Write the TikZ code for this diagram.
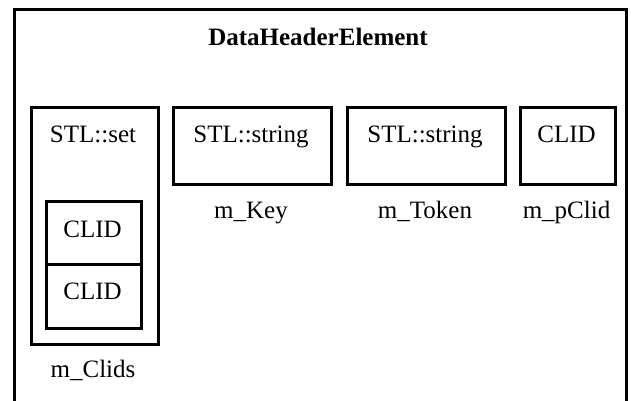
\documentclass[tikz,border=0pt]{standalone}
\usepackage{fontspec}
\setmainfont{Liberation Serif}
\begin{document}
\begin{tikzpicture}[x=1pt,y=-1pt,
  box/.style={draw, line width=3pt, inner sep=0pt, anchor=north west},
  txt/.style={font=\fontsize{25}{30}\selectfont, inner sep=0pt, anchor=base}]
\useasboundingbox (0,0) rectangle (631,401);
% enclosing frame, open at the bottom
\draw[line width=3pt] (14,401) -- (14,10) -- (626,10) -- (626,401);
\node[txt, font=\fontsize{25}{30}\selectfont\bfseries] (title) at (318,46) {DataHeaderElement};
% set member with its two entries
\node[box, minimum width=127pt, minimum height=237pt] (setbox) at (30,106) {};
\node[txt] (settxt) at (93,142) {STL::set};
\node[box, minimum width=95pt, minimum height=63pt] (clidA) at (45,200) {};
\node[box, minimum width=95pt, minimum height=64pt] (clidB) at (45,263) {};
\node[txt] (clidAtxt) at (92.5,237) {CLID};
\node[txt] (clidBtxt) at (92.5,299) {CLID};
\node[txt] (setname) at (93,377) {m\_Clids};
% string members
\node[box, minimum width=158pt, minimum height=77pt] (keybox) at (172,106) {};
\node[txt] (keytxt) at (251,142) {STL::string};
\node[txt] (keyname) at (251,218) {m\_Key};
\node[box, minimum width=158pt, minimum height=77pt] (tokbox) at (346,106) {};
\node[txt] (toktxt) at (425,142) {STL::string};
\node[txt] (tokname) at (425,218) {m\_Token};
% pointer member
\node[box, minimum width=95pt, minimum height=77pt] (pclidbox) at (519,106) {};
\node[txt] (pclidtxt) at (566.5,142) {CLID};
\node[txt] (pclidname) at (566.5,218) {m\_pClid};
\end{tikzpicture}
\end{document}
